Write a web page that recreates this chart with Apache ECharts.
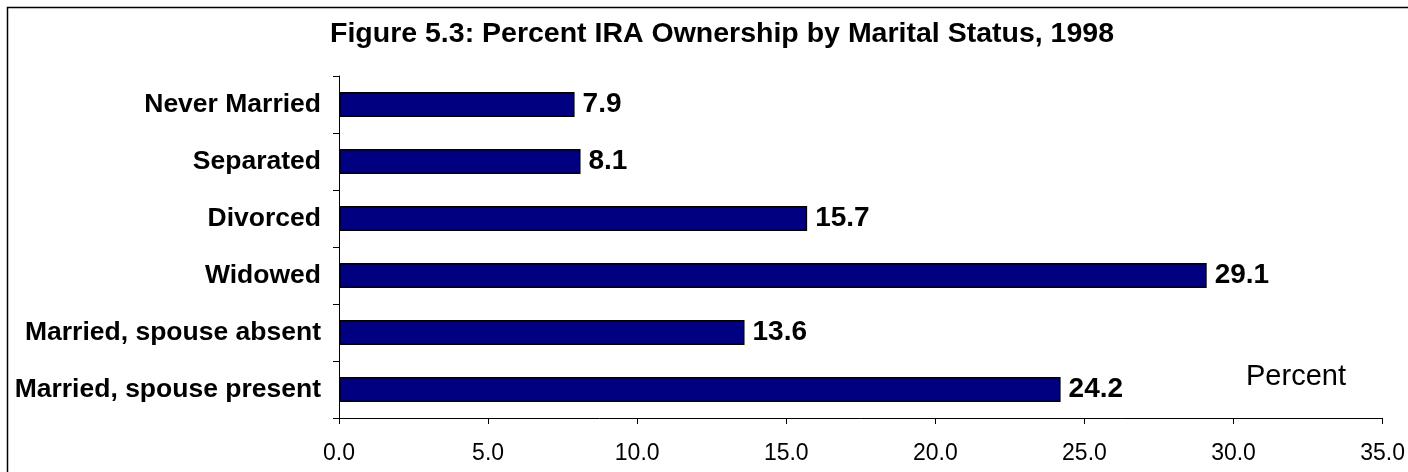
<!DOCTYPE html>
<html>
<head>
<meta charset="utf-8">
<script src="https://cdn.jsdelivr.net/npm/echarts@6/dist/echarts.min.js"></script>
<style>
  html, body { margin: 0; padding: 0; background: #fff; }
  #chart { width: 1408px; height: 472px; }
</style>
</head>
<body>
<div id="chart"></div>
<script>
// Marital status groups, listed bottom to top as drawn on the category axis
const categories = [
  'Married, spouse present',
  'Married, spouse absent',
  'Widowed',
  'Divorced',
  'Separated',
  'Never Married'
];
// Percent of households owning an IRA, 1998
const iraPercent = [24.2, 13.6, 29.1, 15.7, 8.1, 7.9];
const titleText = 'Figure 5.3: Percent IRA Ownership by Marital Status, 1998';
const axisName = 'Percent';

const chart = echarts.init(document.getElementById('chart'), null, { renderer: 'canvas' });

const fontFamily = '"Liberation Sans", Arial, sans-serif';

chart.setOption({
  animation: false,
  backgroundColor: '#ffffff',
  title: {
    text: titleText,
    left: 717,
    textAlign: 'center',
    top: 15,
    textStyle: { fontFamily, fontSize: 28.5, fontWeight: 'bold', color: '#000' }
  },
  graphic: [
    {
      type: 'rect',
      shape: { x: 7.5, y: 7.5, width: 1420, height: 480 },
      style: { fill: 'none', stroke: '#000', lineWidth: 1.5 },
      silent: true
    },
    {
      type: 'text',
      left: 1246,
      top: 362,
      style: { text: axisName, font: '29px "Liberation Sans", Arial, sans-serif', fill: '#000' },
      silent: true
    }
  ],
  grid: { left: 339, right: 23, top: 76, bottom: 54, containLabel: false },
  xAxis: {
    type: 'value',
    min: 0,
    max: 35,
    interval: 5,
    axisLine: { show: true, lineStyle: { color: '#000', width: 1 } },
    axisTick: { show: true, length: 6, inside: false, lineStyle: { color: '#000' } },
    splitLine: { show: false },
    axisLabel: {
      margin: 24,
      fontFamily, fontSize: 23, color: '#000',
      formatter: v => v.toFixed(1)
    }
  },
  yAxis: {
    type: 'category',
    data: categories,
    axisLine: { show: true, lineStyle: { color: '#000', width: 1 } },
    axisTick: { show: true, length: 6, alignWithLabel: false, lineStyle: { color: '#000' } },
    axisLabel: {
      margin: 18,
      fontFamily, fontSize: 26.5, fontWeight: 'bold', color: '#000'
    }
  },
  series: [{
    type: 'bar',
    data: iraPercent,
    barWidth: 25,
    itemStyle: { color: '#000080', borderColor: '#000', borderWidth: 1.5 },
    label: {
      show: true,
      position: 'right',
      distance: 8,
      fontFamily, fontSize: 28, fontWeight: 'bold', color: '#000',
      formatter: p => p.value.toFixed(1)
    }
  }]
});
</script>
</body>
</html>
